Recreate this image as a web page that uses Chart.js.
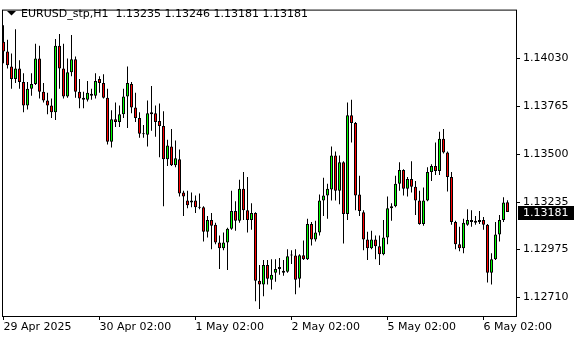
<!DOCTYPE html>
<html>
<head>
<meta charset="utf-8">
<script src="https://cdn.jsdelivr.net/npm/chart.js@4.4.1/dist/chart.umd.min.js"></script>
<style>
  html, body { margin: 0; padding: 0; background: #fff; }
  #wrap { position: relative; width: 580px; height: 340px; }
</style>
</head>
<body>
<div id="wrap"><canvas id="chart" width="580" height="340"></canvas></div>
<script>
// EURUSD H1 candles, 29 Apr 02:00 -> 6 May, one entry per hour
const symbol = 'EURUSD_stp,H1';

const opens = [
  1.14122, 1.14068, 1.13986, 1.13916, 1.13975, 1.13900, 1.13770, 1.13862, 1.13889, 1.14030,
  1.13846, 1.13797, 1.13770, 1.13732, 1.14100, 1.13975, 1.13819, 1.13954, 1.14025, 1.13846,
  1.13813, 1.13802, 1.13835, 1.13824, 1.13916, 1.13894, 1.13813, 1.13570, 1.13694, 1.13678,
  1.13721, 1.13819, 1.13889, 1.13759, 1.13700, 1.13613, 1.13608, 1.13721, 1.13727, 1.13684,
  1.13657, 1.13473, 1.13543, 1.13440, 1.13473, 1.13289, 1.13245, 1.13234, 1.13245, 1.13207,
  1.13207, 1.13072, 1.13137, 1.13110, 1.13013, 1.12980, 1.13013, 1.13088, 1.13186, 1.13132,
  1.13310, 1.13191, 1.13137, 1.13175, 1.12801, 1.12780, 1.12888, 1.12807, 1.12845, 1.12866,
  1.12856, 1.12850, 1.12942, 1.12940, 1.12812, 1.12942, 1.12920, 1.13115, 1.13029, 1.13067,
  1.13245, 1.13272, 1.13305, 1.13494, 1.13299, 1.13456, 1.13170, 1.13716, 1.13673, 1.13278,
  1.13180, 1.13029, 1.12980, 1.13029, 1.12991, 1.12948, 1.13040, 1.13202, 1.13213, 1.13337,
  1.13413, 1.13310, 1.13364, 1.13321, 1.13245, 1.13115, 1.13245, 1.13402, 1.13435, 1.13408,
  1.13586, 1.13510, 1.13375, 1.13126, 1.13002, 1.12980, 1.13110, 1.13126, 1.13132, 1.13126,
  1.13137, 1.13110, 1.12845, 1.12920, 1.13056, 1.13137, 1.13235
];
const highs = [
  1.14214, 1.14133, 1.14057, 1.14192, 1.14020, 1.13948, 1.13900, 1.13948, 1.14111, 1.14100,
  1.13894, 1.13840, 1.13808, 1.14138, 1.14165, 1.14111, 1.14030, 1.14160, 1.14041, 1.13916,
  1.13846, 1.13905, 1.13862, 1.13948, 1.13932, 1.13943, 1.13862, 1.13743, 1.13786, 1.13770,
  1.13862, 1.13986, 1.13900, 1.13840, 1.13732, 1.13662, 1.13797, 1.13878, 1.13770, 1.13781,
  1.13738, 1.13581, 1.13640, 1.13576, 1.13527, 1.13299, 1.13299, 1.13289, 1.13272, 1.13283,
  1.13213, 1.13159, 1.13175, 1.13121, 1.13051, 1.13067, 1.13094, 1.13299, 1.13240, 1.13359,
  1.13402, 1.13375, 1.13229, 1.13180, 1.12888, 1.12915, 1.12915, 1.12920, 1.12920, 1.12926,
  1.12915, 1.12975, 1.12969, 1.12975, 1.12948, 1.13024, 1.13143, 1.13126, 1.13132, 1.13278,
  1.13370, 1.13337, 1.13543, 1.13516, 1.13494, 1.13462, 1.13786, 1.13802, 1.13678, 1.13381,
  1.13191, 1.13072, 1.13078, 1.13051, 1.13051, 1.13137, 1.13267, 1.13229, 1.13381, 1.13456,
  1.13418, 1.13375, 1.13462, 1.13353, 1.13299, 1.13316, 1.13429, 1.13445, 1.13565, 1.13624,
  1.13640, 1.13516, 1.13402, 1.13132, 1.13099, 1.13143, 1.13196, 1.13191, 1.13159, 1.13186,
  1.13153, 1.13115, 1.12953, 1.13126, 1.13164, 1.13262, 1.13246
];
const lows = [
  1.14003, 1.13975, 1.13862, 1.13894, 1.13862, 1.13732, 1.13748, 1.13824, 1.13883, 1.13808,
  1.13786, 1.13721, 1.13700, 1.13689, 1.13862, 1.13808, 1.13813, 1.13932, 1.13813, 1.13754,
  1.13754, 1.13792, 1.13802, 1.13808, 1.13840, 1.13808, 1.13554, 1.13538, 1.13651, 1.13651,
  1.13700, 1.13646, 1.13727, 1.13678, 1.13592, 1.13592, 1.13543, 1.13630, 1.13597, 1.13484,
  1.13213, 1.13435, 1.13435, 1.13429, 1.13267, 1.13159, 1.13202, 1.13207, 1.13175, 1.13196,
  1.13018, 1.13040, 1.12975, 1.13002, 1.12866, 1.12969, 1.12860, 1.13083, 1.13078, 1.13121,
  1.13137, 1.13067, 1.13083, 1.12688, 1.12645, 1.12715, 1.12780, 1.12753, 1.12796, 1.12834,
  1.12829, 1.12845, 1.12893, 1.12726, 1.12764, 1.12915, 1.12915, 1.12996, 1.13018, 1.13051,
  1.13159, 1.13143, 1.13245, 1.13245, 1.13224, 1.13007, 1.13137, 1.13565, 1.13191, 1.13159,
  1.12969, 1.12915, 1.12975, 1.12920, 1.12888, 1.12942, 1.13002, 1.13132, 1.13207, 1.13299,
  1.13272, 1.13267, 1.13289, 1.13164, 1.13110, 1.13105, 1.13240, 1.13353, 1.13386, 1.13386,
  1.13505, 1.13294, 1.13110, 1.12975, 1.12964, 1.12953, 1.13105, 1.13099, 1.13110, 1.13115,
  1.13083, 1.12791, 1.12780, 1.12915, 1.13018, 1.13126, 1.13181
];
const closes = [
  1.14068, 1.13992, 1.13916, 1.13975, 1.13900, 1.13770, 1.13862, 1.13889, 1.14030, 1.13846,
  1.13797, 1.13770, 1.13732, 1.14100, 1.13975, 1.13819, 1.13954, 1.14025, 1.13846, 1.13808,
  1.13802, 1.13840, 1.13824, 1.13905, 1.13894, 1.13813, 1.13570, 1.13694, 1.13678, 1.13721,
  1.13819, 1.13894, 1.13759, 1.13700, 1.13613, 1.13611, 1.13727, 1.13732, 1.13678, 1.13657,
  1.13473, 1.13549, 1.13440, 1.13478, 1.13283, 1.13267, 1.13218, 1.13245, 1.13207, 1.13205,
  1.13072, 1.13137, 1.13105, 1.13013, 1.12980, 1.13013, 1.13088, 1.13186, 1.13132, 1.13310,
  1.13191, 1.13137, 1.13175, 1.12801, 1.12780, 1.12888, 1.12812, 1.12834, 1.12866, 1.12877,
  1.12845, 1.12937, 1.12940, 1.12807, 1.12942, 1.12920, 1.13115, 1.13029, 1.13067, 1.13245,
  1.13272, 1.13310, 1.13494, 1.13299, 1.13456, 1.13170, 1.13716, 1.13673, 1.13272, 1.13186,
  1.13029, 1.12980, 1.13029, 1.12991, 1.12948, 1.13040, 1.13202, 1.13213, 1.13337, 1.13413,
  1.13310, 1.13364, 1.13321, 1.13245, 1.13115, 1.13245, 1.13402, 1.13435, 1.13408, 1.13586,
  1.13510, 1.13375, 1.13126, 1.13002, 1.12980, 1.13121, 1.13137, 1.13137, 1.13121, 1.13137,
  1.13110, 1.12845, 1.12920, 1.13056, 1.13137, 1.13234, 1.13181
];

// time axis labels sit on these bar indexes
const xTickIndex  = [0, 24, 48, 72, 96, 120];
const xTickLabels = ['29 Apr 2025', '30 Apr 02:00', '1 May 02:00', '2 May 02:00', '5 May 02:00', '6 May 02:00'];

// price axis
const yTicks = [1.12710, 1.12975, 1.13235, 1.13500, 1.13765, 1.14030];
const yMin = 1.12606;
const yMax = 1.14300;

const FONT = '"DejaVu Sans", Verdana, sans-serif';
const BULL = '#00ff00';
const BEAR = '#ff0000';

Chart.defaults.color = '#000';
Chart.defaults.font.family = FONT;
Chart.defaults.font.size = 11;

// frame, symbol header and the current price tag
const overlay = {
  id: 'overlay',
  afterDraw(chart) {
    const ctx = chart.ctx, a = chart.chartArea;
    ctx.save();
    ctx.strokeStyle = '#000';
    ctx.lineWidth = 1;
    ctx.strokeRect(a.left + 0.5, a.top + 0.5, a.right - a.left - 1, a.bottom - a.top);

    // header: ▼ symbol  O H L C of the last bar
    const n = closes.length - 1;
    ctx.fillStyle = '#000';
    ctx.beginPath();
    ctx.moveTo(7, 11); ctx.lineTo(16, 11); ctx.lineTo(11.5, 15.5); ctx.closePath();
    ctx.fill();
    ctx.font = '11px ' + FONT;
    ctx.textBaseline = 'alphabetic';
    const hdr = symbol + '  ' + [opens[n], highs[n], lows[n], closes[n]].map(v => v.toFixed(5)).join(' ');
    ctx.fillText(hdr, 21, 17);

    // price tag on the right axis
    const py = Math.round(chart.scales.y.getPixelForValue(closes[n]));
    ctx.fillRect(a.right + 1, py - 6, 56, 14);
    ctx.fillStyle = '#fff';
    ctx.textBaseline = 'middle';
    ctx.fillText(closes[n].toFixed(5), a.right + 6, py + 1);
    ctx.restore();
  }
};

const idx = opens.map((_, i) => i);

new Chart(document.getElementById('chart'), {
  type: 'bar',
  data: {
    datasets: [
      {
        // wicks
        data: idx.map(i => ({ x: i, y: [lows[i], highs[i]] })),
        backgroundColor: '#000',
        borderWidth: 0,
        barThickness: 1,
        inflateAmount: 0,
        grouped: false,
        order: 2,
      },
      {
        // bodies
        data: idx.map(i => ({ x: i, y: [opens[i], closes[i]] })),
        backgroundColor: idx.map(i => closes[i] >= opens[i] ? BULL : BEAR),
        borderColor: '#000',
        borderWidth: 1,
        borderSkipped: false,
        barThickness: 3,
        minBarLength: 1,
        inflateAmount: 0,
        grouped: false,
        order: 1,
      },
    ],
  },
  options: {
    responsive: false,
    devicePixelRatio: 1,
    animation: false,
    layout: { padding: { left: 2, top: 2, right: 0, bottom: 0 } },
    plugins: { legend: { display: false }, tooltip: { enabled: false } },
    scales: {
      x: {
        type: 'linear',
        offset: false,
        min: -0.375,
        max: 128.375,
        afterBuildTicks: s => { s.ticks = xTickIndex.map(v => ({ value: v })); },
        afterFit: s => { s.height = 24; },
        ticks: {
          autoSkip: false,
          maxRotation: 0,
          align: 'start',
          padding: 1,
          callback: (v, i) => xTickLabels[i],
        },
        grid: { offset: false, drawOnChartArea: false, drawTicks: true, tickLength: 4, color: '#000' },
        border: { display: false },
      },
      y: {
        position: 'right',
        min: yMin,
        max: yMax,
        beginAtZero: false,
        afterBuildTicks: s => { s.ticks = yTicks.map(v => ({ value: v })); },
        afterFit: s => { s.width = 63; },
        ticks: {
          padding: 3,
          callback: v => v.toFixed(5),
        },
        grid: { drawOnChartArea: false, drawTicks: true, tickLength: 3, color: '#000' },
        border: { display: false },
      },
    },
  },
  plugins: [overlay],
});
</script>
</body>
</html>
